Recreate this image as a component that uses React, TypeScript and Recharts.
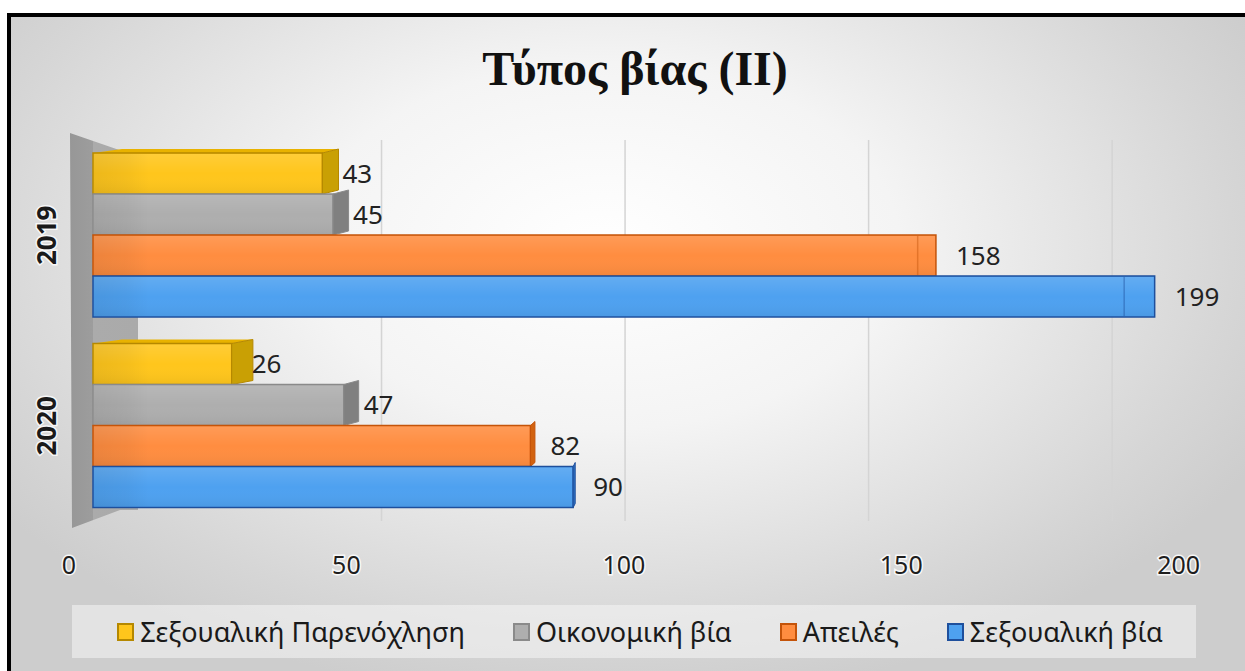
import React from "react";
import {
  BarChart,
  Bar,
  XAxis,
  YAxis,
  Legend,
  LabelList,
  CartesianGrid,
} from "recharts";

// values
const years = ["2019", "2020"];
const harassment = [43, 26];
const economic = [45, 47];
const threats = [158, 82];
const sexualViolence = [199, 90];
const xTicks = [0, 50, 100, 150, 200];
const gridValues = [50, 100, 150, 200];

const data = years.map((year, i) => ({
  year,
  harassment: harassment[i],
  economic: economic[i],
  threats: threats[i],
  sexual: sexualViolence[i],
}));

const series = [
  { key: "harassment", name: "Σεξουαλική Παρενόχληση", face: "#FFC61C", side: "#C9A004", edge: "#B58800", top: "#E8B200" },
  { key: "economic", name: "Οικονομική βία", face: "#AEAEAE", side: "#808080", edge: "#8A8A8A", top: "#9A9A9A" },
  { key: "threats", name: "Απειλές", face: "#FF8D40", side: "#D2620F", edge: "#C4540A", top: "#E5701E" },
  { key: "sexual", name: "Σεξουαλική βία", face: "#4EA1F0", side: "#2F70C2", edge: "#1E4F9C", top: "#3C86D8" },
];

const FONT = "'Noto Sans', 'Open Sans', sans-serif";
// perspective: back face of a bar end shifts toward this x
const VP = 610;
const K = 0.056;

const makeShape = (s: any, first: boolean) => (p: any) => {
  const { x, y, width: w, height: h } = p;
  if (!w || w <= 0) return <g />;
  const end = x + w;
  const back = end + K * (VP - end);
  const startBack = x + K * (VP - x);
  return (
    <g>
      <defs>
        <linearGradient id="leftShade" x1="0" y1="0" x2="1" y2="0">
          <stop offset="0" stopColor="#000" stopOpacity={0.07} />
          <stop offset="0.6" stopColor="#000" stopOpacity={0.04} />
          <stop offset="1" stopColor="#000" stopOpacity={0} />
        </linearGradient>
        <linearGradient id="gloss" x1="0" y1="0" x2="0" y2="1">
          <stop offset="0" stopColor="#fff" stopOpacity={0.12} />
          <stop offset="0.5" stopColor="#fff" stopOpacity={0} />
          <stop offset="1" stopColor="#000" stopOpacity={0.05} />
        </linearGradient>
      </defs>
      {first && (
        <polygon
          points={`${x},${y} ${end},${y} ${back},${y - 4} ${startBack},${y - 4}`}
          fill={s.top}
        />
      )}
      <rect x={x} y={y} width={w} height={h} fill={s.face} stroke={s.edge} strokeWidth={1.5} />
      <rect x={x + 1} y={y + 1} width={w - 2} height={h - 2} fill="url(#gloss)" />
      <rect x={x + 1} y={y + 1} width={Math.min(55, w - 2)} height={h - 2} fill="url(#leftShade)" />
      {back > end ? (
        <polygon
          points={`${end},${y} ${back},${y - 4} ${back},${y + h - 4} ${end},${y + h}`}
          fill={s.side}
          stroke={s.edge}
          strokeWidth={1}
        />
      ) : (
        <line x1={back} y1={y + 1} x2={back} y2={y + h - 1} stroke={s.edge} strokeOpacity={0.45} strokeWidth={1.5} />
      )}
    </g>
  );
};

// grid lines sit on the back wall, so they are pulled toward the vanishing x
const gridCoords = (props: any) => {
  const axis = props.xAxis || {};
  const sc = axis.scale;
  const off = props.offset || {};
  const dom = Array.isArray(axis.domain) ? axis.domain : [0, 200];
  const toPx = (v: number) => {
    if (typeof sc === "function") return sc(v);
    if (sc && typeof sc.map === "function") return sc.map(v);
    return off.left + ((v - dom[0]) / (dom[1] - dom[0])) * off.width;
  };
  return gridValues.map((v) => {
    const px = toPx(v);
    return px + 0.087 * (VP - px);
  });
};

const XTick = (p: any) => {
  const { x, y, payload } = p;
  const tx = x + (x - 93) * 0.04 - 24;
  return (
    <text
      x={tx}
      y={y + 43}
      textAnchor="middle"
      dominantBaseline="central"
      fontSize={25}
      fontFamily={FONT}
      fill="#1e1e1e"
      stroke="rgba(255,255,255,0.85)"
      strokeWidth={3}
      paintOrder="stroke"
    >
      {payload.value}
    </text>
  );
};

const YTick = (p: any) => {
  const { x, y, payload } = p;
  return (
    <text
      transform={`translate(${x - 47}, ${y}) rotate(-90)`}
      textAnchor="middle"
      dominantBaseline="central"
      fontSize={26}
      fontWeight="bold"
      fontFamily={FONT}
      fill="#1a1a1a"
      stroke="rgba(255,255,255,0.8)"
      strokeWidth={3}
      paintOrder="stroke"
    >
      {payload.value}
    </text>
  );
};

// legend keeps the series order (Recharts would sort it by name)
const LegendBox = () => (
  <div
    style={{
      height: 53,
      background: "rgba(245,245,245,0.55)",
      display: "flex",
      alignItems: "center",
      justifyContent: "center",
      paddingLeft: 12,
      boxSizing: "border-box",
      gap: 48,
      fontFamily: FONT,
      fontSize: 27,
      color: "#1a1a1a",
    }}
  >
    {series.map((s) => (
      <div key={s.key} style={{ display: "flex", alignItems: "center" }}>
        <span
          style={{
            display: "inline-block",
            width: 13,
            height: 14,
            background: s.face,
            border: `2px solid ${s.edge}`,
            marginRight: 6,
          }}
        />
        <span>{s.name}</span>
      </div>
    ))}
  </div>
);

export default function App() {
  return (
    <div
      style={{
        position: "absolute",
        left: 0,
        top: 0,
        width: 1245,
        height: 671,
        background: "#fff",
        overflow: "hidden",
        fontFamily: FONT,
      }}
    >
      {/* frame with the shaded background */}
      <div
        style={{
          position: "absolute",
          left: 7,
          top: 13,
          width: 1238,
          height: 658,
          boxSizing: "border-box",
          borderTop: "4px solid #000",
          borderLeft: "4px solid #000",
          background:
            "radial-gradient(ellipse 60% 70% at 48% 35%, #ffffff 0%, #f4f4f4 40%, #d6d6d6 85%, #cdcdcd 100%)",
        }}
      />
      {/* 3D side wall on the left */}
      <div
        style={{
          position: "absolute",
          left: 70,
          top: 133,
          width: 68,
          height: 395,
          background: "linear-gradient(to right, #979797 0px, #9d9d9d 23px, #ababab 23px, #aaa 68px)",
          clipPath: "polygon(0px 0px, 55px 19px, 68px 19px, 68px 377px, 50px 377px, 2px 395px)",
        }}
      />
      <div
        style={{
          position: "absolute",
          left: 0,
          top: 43,
          width: 1270,
          textAlign: "center",
          fontFamily: "'Liberation Serif', 'DejaVu Serif', serif",
          fontWeight: "bold",
          fontSize: 48,
          lineHeight: "52px",
          color: "#111",
        }}
      >
        Τύπος βίας (II)
      </div>
      <div style={{ position: "absolute", left: 0, top: 0 }}>
        <BarChart
          width={1245}
          height={671}
          data={data}
          layout="vertical"
          margin={{ top: 140, right: 85, bottom: 13, left: 33 }}
          barCategoryGap={13}
          barGap={0}
        >
          <CartesianGrid
            horizontal={false}
            stroke="#d4d4d4"
            strokeWidth={1.5}
            verticalCoordinatesGenerator={gridCoords}
          />
          <XAxis
            type="number"
            domain={[0, 200]}
            ticks={xTicks}
            axisLine={false}
            tickLine={false}
            tickSize={0}
            tickMargin={0}
            height={84}
            tick={<XTick />}
          />
          <YAxis
            type="category"
            dataKey="year"
            width={60}
            axisLine={false}
            tickLine={false}
            tickSize={0}
            tickMargin={0}
            tick={<YTick />}
          />
          <Legend
            verticalAlign="bottom"
            content={<LegendBox />}
            wrapperStyle={{ left: 72, width: 1124, height: 53, bottom: 13 }}
          />
          {series.map((s, i) => (
            <Bar
              key={s.key}
              dataKey={s.key}
              name={s.name}
              fill={s.face}
              shape={makeShape(s, i === 0)}
              isAnimationActive={false}
            >
              <LabelList
                dataKey={s.key}
                position="right"
                offset={20}
                fontSize={26}
                fontFamily={FONT}
                fill="#222"
              />
            </Bar>
          ))}
        </BarChart>
      </div>
    </div>
  );
}
